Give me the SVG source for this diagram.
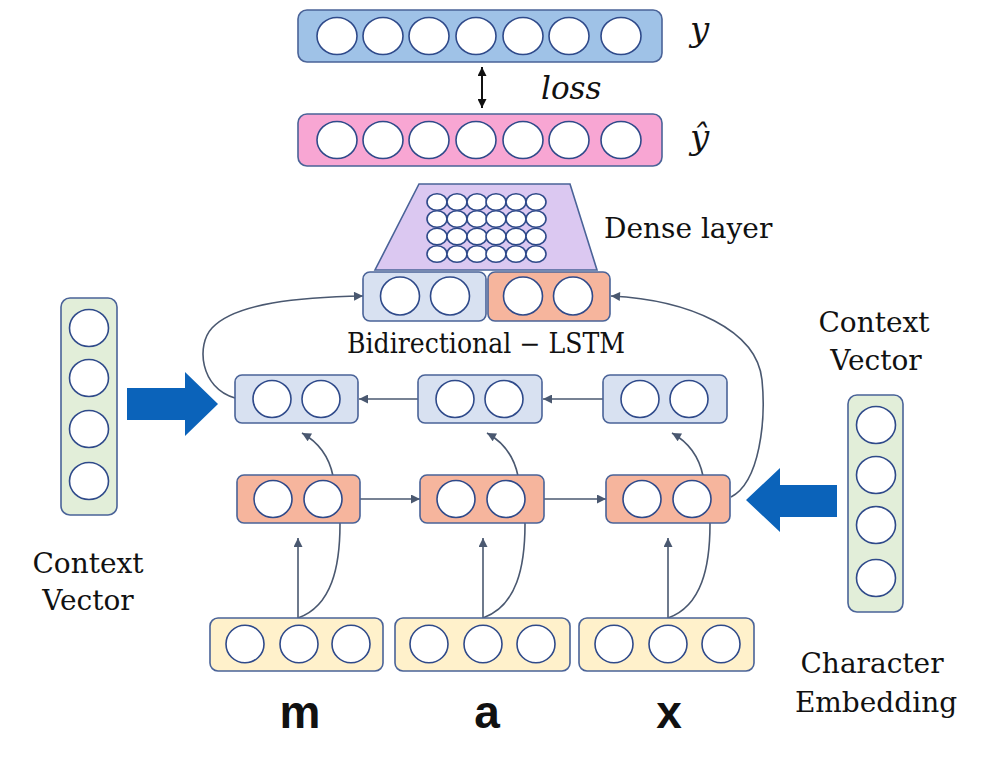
<svg xmlns="http://www.w3.org/2000/svg" width="983" height="761" viewBox="0 0 983 761">
<style>
.box{stroke:#4a6398;stroke-width:1.6}
.c{fill:#fff;stroke:#2f4a8a;stroke-width:1.6}
.yb{fill:#9fc2e7}
.yh{fill:#f8a6d3}
.bl{fill:#d8e1f1}
.or{fill:#f6b59d}
.em{fill:#fff1cb}
.cv{fill:#e2eed9}
.dn{fill:#dbc8f1}
.ln{fill:none;stroke:#4a5870;stroke-width:1.6}
.big{fill:#0b63ba}
.sf{font-family:"DejaVu Serif","Liberation Serif",serif;fill:#111}
.it{font-family:"DejaVu Serif","Liberation Serif",serif;font-style:italic;fill:#111}
.ch{font-family:"Liberation Sans",Arial,sans-serif;font-weight:bold;fill:#111}
</style>
<defs>
<marker id="ah" viewBox="0 0 10 10" refX="10" refY="5" markerWidth="10" markerHeight="9" markerUnits="userSpaceOnUse" orient="auto">
<path d="M0,0 L10,5 L0,10 Z" fill="#4a5870"/>
</marker>
<marker id="bk" viewBox="0 0 10 10" refX="10" refY="5" markerWidth="10" markerHeight="9" markerUnits="userSpaceOnUse" orient="auto-start-reverse">
<path d="M0,0 L10,5 L0,10 Z" fill="#111"/>
</marker>
</defs>

<g id="connectors">
<path class="ln" marker-end="url(#ah)" d="M298 618 L298 538"/>
<path class="ln" marker-end="url(#ah)" d="M483 618 L483 538"/>
<path class="ln" marker-end="url(#ah)" d="M668 618 L668 538"/>
<path class="ln" marker-end="url(#ah)" d="M298 618 C332 606,340 566,340 524 L333 476 C329 456,318 442,302 433"/>
<path class="ln" marker-end="url(#ah)" d="M483 618 C517 606,525 566,525 524 L518 476 C514 456,503 442,487 433"/>
<path class="ln" marker-end="url(#ah)" d="M668 618 C702 606,710 566,710 524 L703 476 C699 456,688 442,672 433"/>
<path class="ln" marker-end="url(#ah)" d="M603 399 L543 399"/>
<path class="ln" marker-end="url(#ah)" d="M418 399 L359 399"/>
<path class="ln" marker-end="url(#ah)" d="M360 499 L420 499"/>
<path class="ln" marker-end="url(#ah)" d="M544 499 L606 499"/>
<path class="ln" marker-end="url(#ah)" d="M235 398 C200 388,196 345,212 328 C235 303,300 297,363 296"/>
<path class="ln" marker-end="url(#ah)" d="M731 497 C760 482,766 420,762 380 C757 330,690 300,611 296"/>
<path fill="none" stroke="#111" stroke-width="2" marker-start="url(#bk)" marker-end="url(#bk)" d="M482 67 L482 108"/>
</g>

<g id="y">
<rect class="box yb" x="298" y="10" width="364" height="52" rx="9"/>
<ellipse class="c" cx="337" cy="36" rx="20" ry="18.5"/>
<ellipse class="c" cx="383" cy="36" rx="20" ry="18.5"/>
<ellipse class="c" cx="429" cy="36" rx="20" ry="18.5"/>
<ellipse class="c" cx="476" cy="36" rx="20" ry="18.5"/>
<ellipse class="c" cx="523" cy="36" rx="20" ry="18.5"/>
<ellipse class="c" cx="569" cy="36" rx="20" ry="18.5"/>
<ellipse class="c" cx="621" cy="36" rx="20" ry="18.5"/>
<text class="it" x="690" y="41" font-size="34">y</text>
</g>

<g id="loss">
<text class="it" x="541" y="99" font-size="31">loss</text>
</g>

<g id="yhat">
<rect class="box yh" x="298" y="114" width="364" height="52" rx="9"/>
<ellipse class="c" cx="337" cy="140" rx="20" ry="18.5"/>
<ellipse class="c" cx="383" cy="140" rx="20" ry="18.5"/>
<ellipse class="c" cx="429" cy="140" rx="20" ry="18.5"/>
<ellipse class="c" cx="476" cy="140" rx="20" ry="18.5"/>
<ellipse class="c" cx="523" cy="140" rx="20" ry="18.5"/>
<ellipse class="c" cx="569" cy="140" rx="20" ry="18.5"/>
<ellipse class="c" cx="621" cy="140" rx="20" ry="18.5"/>
<text class="it" x="690" y="149" font-size="34">ŷ</text>
</g>

<g id="dense">
<polygon class="box dn" points="419,184 570,184 597,270 375,270"/>
<g id="dense-units">
<ellipse class="c" cx="437" cy="202" rx="10" ry="8.3"/><ellipse class="c" cx="457" cy="202" rx="10" ry="8.3"/><ellipse class="c" cx="477" cy="202" rx="10" ry="8.3"/><ellipse class="c" cx="496" cy="202" rx="10" ry="8.3"/><ellipse class="c" cx="516" cy="202" rx="10" ry="8.3"/><ellipse class="c" cx="536" cy="202" rx="10" ry="8.3"/>
<ellipse class="c" cx="437" cy="219" rx="10" ry="8.3"/><ellipse class="c" cx="457" cy="219" rx="10" ry="8.3"/><ellipse class="c" cx="477" cy="219" rx="10" ry="8.3"/><ellipse class="c" cx="496" cy="219" rx="10" ry="8.3"/><ellipse class="c" cx="516" cy="219" rx="10" ry="8.3"/><ellipse class="c" cx="536" cy="219" rx="10" ry="8.3"/>
<ellipse class="c" cx="437" cy="236.5" rx="10" ry="8.3"/><ellipse class="c" cx="457" cy="236.5" rx="10" ry="8.3"/><ellipse class="c" cx="477" cy="236.5" rx="10" ry="8.3"/><ellipse class="c" cx="496" cy="236.5" rx="10" ry="8.3"/><ellipse class="c" cx="516" cy="236.5" rx="10" ry="8.3"/><ellipse class="c" cx="536" cy="236.5" rx="10" ry="8.3"/>
<ellipse class="c" cx="437" cy="254" rx="10" ry="8.3"/><ellipse class="c" cx="457" cy="254" rx="10" ry="8.3"/><ellipse class="c" cx="477" cy="254" rx="10" ry="8.3"/><ellipse class="c" cx="496" cy="254" rx="10" ry="8.3"/><ellipse class="c" cx="516" cy="254" rx="10" ry="8.3"/><ellipse class="c" cx="536" cy="254" rx="10" ry="8.3"/>
</g>
<text class="sf" x="604" y="238" font-size="28">Dense layer</text>
</g>

<g id="bilstm-out">
<rect class="box bl" x="363" y="272" width="123" height="49" rx="7"/>
<ellipse class="c" cx="400" cy="296" rx="19.5" ry="19"/>
<ellipse class="c" cx="450" cy="296" rx="19.5" ry="19"/>
<rect class="box or" x="488" y="272" width="122" height="49" rx="7"/>
<ellipse class="c" cx="523" cy="296" rx="19.5" ry="19"/>
<ellipse class="c" cx="573" cy="296" rx="19.5" ry="19"/>
<text class="sf" x="486" y="353" font-size="27" text-anchor="middle" textLength="278" lengthAdjust="spacingAndGlyphs">Bidirectional − LSTM</text>
</g>

<g id="bwd1">
<rect class="box bl" x="235" y="375" width="123" height="48" rx="7"/>
<ellipse class="c" cx="272" cy="399" rx="19" ry="18.5"/>
<ellipse class="c" cx="321" cy="399" rx="19" ry="18.5"/>
</g>
<g id="bwd2">
<rect class="box bl" x="418" y="375" width="124" height="48" rx="7"/>
<ellipse class="c" cx="455" cy="399" rx="19" ry="18.5"/>
<ellipse class="c" cx="504" cy="399" rx="19" ry="18.5"/>
</g>
<g id="bwd3">
<rect class="box bl" x="603" y="375" width="124" height="48" rx="7"/>
<ellipse class="c" cx="640" cy="399" rx="19" ry="18.5"/>
<ellipse class="c" cx="689" cy="399" rx="19" ry="18.5"/>
</g>

<g id="fwd1">
<rect class="box or" x="237" y="475" width="123" height="48" rx="7"/>
<ellipse class="c" cx="273" cy="499" rx="19" ry="18.5"/>
<ellipse class="c" cx="323" cy="499" rx="19" ry="18.5"/>
</g>
<g id="fwd2">
<rect class="box or" x="420" y="475" width="124" height="48" rx="7"/>
<ellipse class="c" cx="456" cy="499" rx="19" ry="18.5"/>
<ellipse class="c" cx="506" cy="499" rx="19" ry="18.5"/>
</g>
<g id="fwd3">
<rect class="box or" x="606" y="475" width="124" height="48" rx="7"/>
<ellipse class="c" cx="642" cy="499" rx="19" ry="18.5"/>
<ellipse class="c" cx="692" cy="499" rx="19" ry="18.5"/>
</g>

<g id="emb-m">
<rect class="box em" x="210" y="618" width="173" height="53" rx="8"/>
<ellipse class="c" cx="245" cy="644" rx="19" ry="18.8"/>
<ellipse class="c" cx="299" cy="644" rx="19" ry="18.8"/>
<ellipse class="c" cx="351" cy="644" rx="19" ry="18.8"/>
<text class="ch" x="300" y="728" font-size="46" text-anchor="middle">m</text>
</g>
<g id="emb-a">
<rect class="box em" x="395" y="618" width="175" height="53" rx="8"/>
<ellipse class="c" cx="429" cy="644" rx="19" ry="18.8"/>
<ellipse class="c" cx="483" cy="644" rx="19" ry="18.8"/>
<ellipse class="c" cx="536" cy="644" rx="19" ry="18.8"/>
<text class="ch" x="487" y="728" font-size="46" text-anchor="middle">a</text>
</g>
<g id="emb-x">
<rect class="box em" x="579" y="618" width="175" height="53" rx="8"/>
<ellipse class="c" cx="614" cy="644" rx="19" ry="18.8"/>
<ellipse class="c" cx="668" cy="644" rx="19" ry="18.8"/>
<ellipse class="c" cx="721" cy="644" rx="19" ry="18.8"/>
<text class="ch" x="669" y="728" font-size="46" text-anchor="middle">x</text>
</g>

<g id="context-left">
<rect class="box cv" x="61" y="298" width="56" height="217" rx="9"/>
<ellipse class="c" cx="89" cy="328" rx="19.5" ry="18.5"/>
<ellipse class="c" cx="89" cy="378" rx="19.5" ry="18.5"/>
<ellipse class="c" cx="89" cy="429" rx="19.5" ry="18.5"/>
<ellipse class="c" cx="89" cy="481" rx="19.5" ry="18.5"/>
<polygon class="big" points="127,388 185,388 185,372 218,404 185,436 185,420 127,420"/>
<text class="sf" x="88" y="573" font-size="28" text-anchor="middle">Context</text>
<text class="sf" x="88" y="610" font-size="28" text-anchor="middle">Vector</text>
</g>

<g id="context-right">
<rect class="box cv" x="848" y="395" width="55" height="217" rx="9"/>
<ellipse class="c" cx="876" cy="425" rx="19.5" ry="18.5"/>
<ellipse class="c" cx="876" cy="475" rx="19.5" ry="18.5"/>
<ellipse class="c" cx="876" cy="525" rx="19.5" ry="18.5"/>
<ellipse class="c" cx="876" cy="578" rx="19.5" ry="18.5"/>
<polygon class="big" points="837,485 780,485 780,468 746,500 780,532 780,517 837,517"/>
<text class="sf" x="874" y="332" font-size="28" text-anchor="middle">Context</text>
<text class="sf" x="876" y="370" font-size="28" text-anchor="middle">Vector</text>
</g>

<g id="char-emb-label">
<text class="sf" x="872" y="673" font-size="28" text-anchor="middle">Character</text>
<text class="sf" x="876" y="712" font-size="28" text-anchor="middle">Embedding</text>
</g>
</svg>
